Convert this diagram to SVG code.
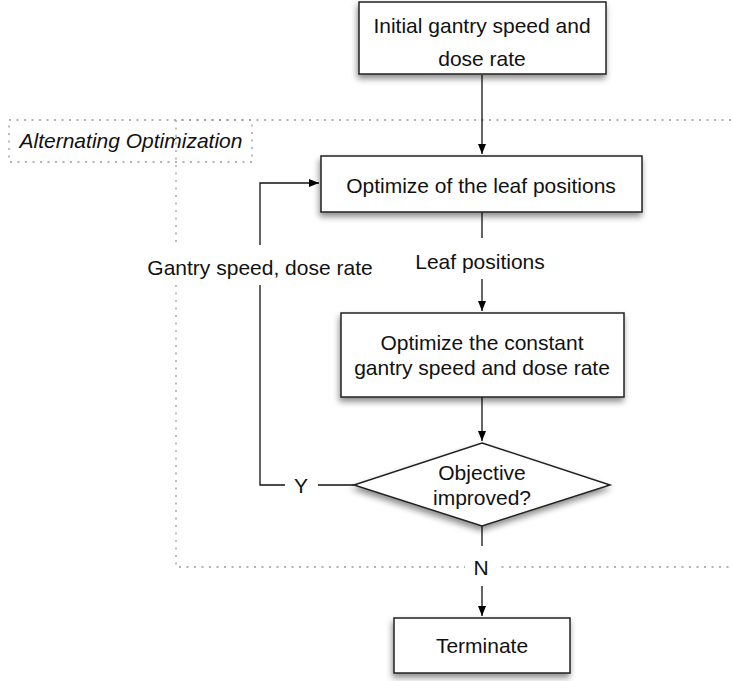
<svg xmlns="http://www.w3.org/2000/svg" width="732" height="681" viewBox="0 0 732 681">
<defs>
<filter id="sh" x="-10%" y="-20%" width="120%" height="160%">
<feDropShadow dx="-1" dy="4" stdDeviation="3" flood-color="#000" flood-opacity="0.45"/>
</filter>
<marker id="ah" viewBox="0 0 10 10" refX="10" refY="5" markerWidth="10" markerHeight="10" markerUnits="userSpaceOnUse" orient="auto">
<path d="M0,1 L10,5 L0,9 z" fill="#000"/>
</marker>
<style>
.box{fill:#fff;stroke:#222;stroke-width:1.5;filter:url(#sh)}
.t{font-family:"Liberation Sans",Arial,sans-serif;font-size:21px;fill:#111;text-anchor:middle}
.ln{fill:none;stroke:#111;stroke-width:1.3}
.dot{fill:none;stroke:#999;stroke-width:1.3;stroke-dasharray:2 5.5}
.bg{fill:#fff}
</style>
</defs>
<rect width="732" height="681" fill="#fff"/>
<g id="frame">
<path class="dot" d="M731,120 L176,120 L176,567 L731,567"/>
<rect class="dot" x="9" y="120" width="243" height="42"/>
<text x="131" y="148" class="t" style="font-style:italic">Alternating Optimization</text>
</g>
<g id="connectors">
<path class="ln" d="M482,75 L482,154" marker-end="url(#ah)"/>
<path class="ln" d="M482,212 L482,238"/>
<path class="ln" d="M482,279 L482,311" marker-end="url(#ah)"/>
<path class="ln" d="M482,397 L482,441" marker-end="url(#ah)"/>
<path class="ln" d="M354,485 L318,485"/>
<path class="ln" d="M285,485 L260,485 L260,285"/>
<path class="ln" d="M260,245 L260,183 L319,183" marker-end="url(#ah)"/>
<path class="ln" d="M482,526 L482,546"/>
<path class="ln" d="M482,586 L482,616" marker-end="url(#ah)"/>
<rect class="bg" x="142" y="246" width="236" height="38"/>
<text x="260" y="275" class="t">Gantry speed, dose rate</text>
<text x="480" y="269" class="t">Leaf positions</text>
<text x="301" y="493" class="t">Y</text>
<rect class="bg" x="465" y="550" width="33" height="33"/>
<text x="481" y="575" class="t">N</text>
</g>
<g id="init">
<rect class="box" x="359" y="2" width="247" height="72"/>
<text x="482" y="33" class="t">Initial gantry speed and</text>
<text x="482" y="66" class="t">dose rate</text>
</g>
<g id="leaf">
<rect class="box" x="321" y="156" width="321" height="56"/>
<text x="481" y="193" class="t">Optimize of the leaf positions</text>
</g>
<g id="gantry">
<rect class="box" x="341" y="313" width="283" height="84"/>
<text x="482" y="350" class="t">Optimize the constant</text>
<text x="482" y="375" class="t">gantry speed and dose rate</text>
</g>
<g id="decision">
<polygon class="box" points="482,443 610,485 482,526 354,485"/>
<text x="482" y="480" class="t">Objective</text>
<text x="482" y="505" class="t">improved?</text>
</g>
<g id="terminate">
<rect class="box" x="394" y="618" width="176" height="55"/>
<text x="482" y="653" class="t">Terminate</text>
</g>
</svg>
